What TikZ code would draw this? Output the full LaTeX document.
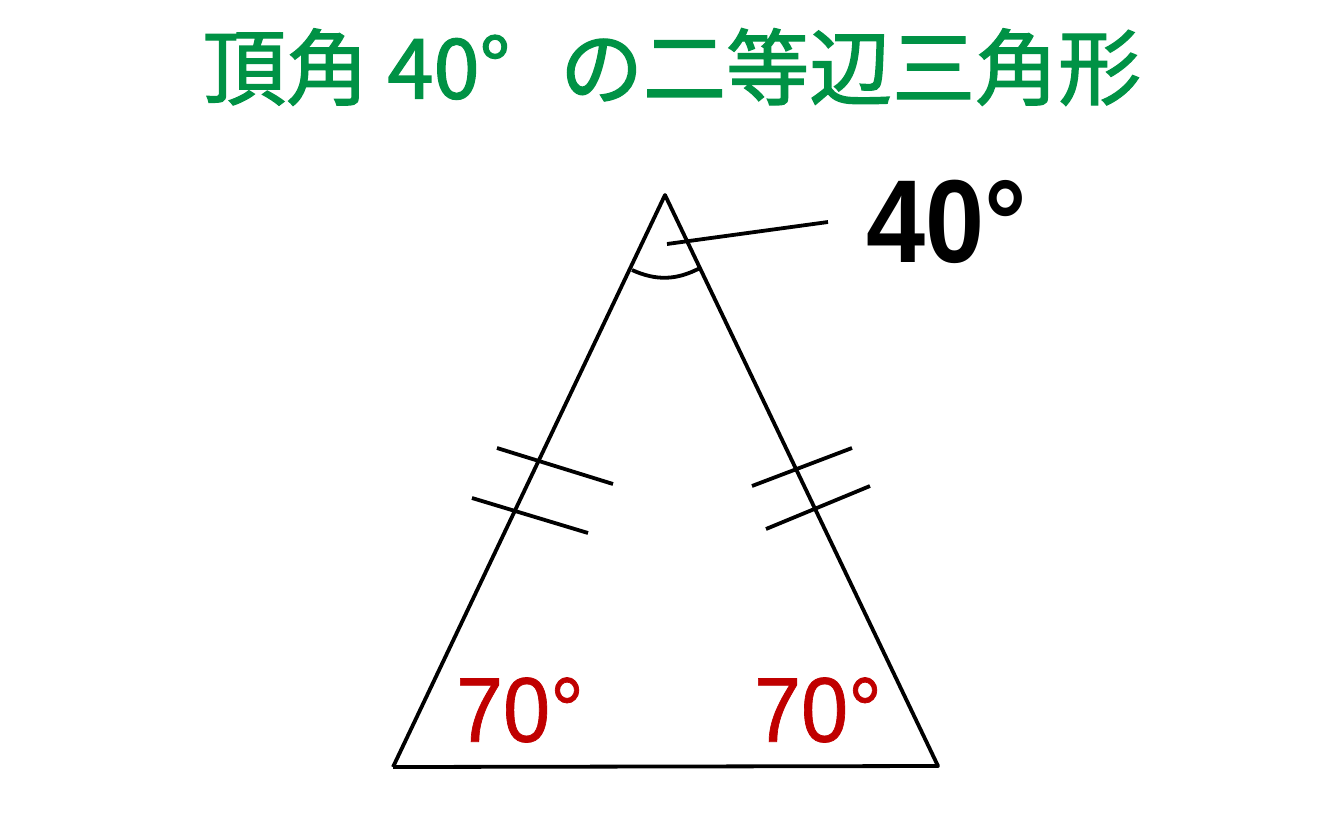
\documentclass[tikz,border=0pt]{standalone}
\usepackage{fontspec}
\setmainfont{Liberation Sans}
\newfontfamily\jp{Noto Sans CJK JP}[FakeBold=1.6]
\newfontfamily\redfont{Liberation Sans}[FakeBold=0.8]
\definecolor{titlegreen}{RGB}{0,146,69}
\definecolor{anglered}{RGB}{192,0,0}
\tikzset{
  edge/.style={line width=3.8pt, line join=round},
  tick/.style={line width=3.8pt},
  titletext/.style={text=titlegreen, font=\jp\fontsize{83}{92}\selectfont, inner sep=0pt},
  bigangle/.style={text=black, font=\bfseries\fontsize{118}{130}\selectfont, inner sep=0pt, xscale=0.9},
  baseangle/.style={text=anglered, font=\redfont\fontsize{92}{100}\selectfont, inner sep=0pt, xscale=0.92}
}
\begin{document}
\begin{tikzpicture}[x=1pt,y=-1pt]
\useasboundingbox (0,0) rectangle (1333,833);
% vertices
\coordinate (A) at (665,195);
\coordinate (B) at (393,767);
\coordinate (C) at (938,766);
\draw[edge] (B) -- (A) -- (C) -- (B);
% angle arc
\coordinate (aL) at (632,270);
\coordinate (aR) at (700,268);
\draw[tick] (aL) to[bend right=26] (aR);
% leader
\coordinate (l1) at (667,244);
\coordinate (l2) at (828,222);
\draw[tick] (l1) -- (l2);
% tick marks
\coordinate (t1a) at (497,448); \coordinate (t1b) at (613,484);
\coordinate (t2a) at (472,498); \coordinate (t2b) at (588,533);
\coordinate (t3a) at (752,486); \coordinate (t3b) at (852,448);
\coordinate (t4a) at (766,529); \coordinate (t4b) at (870,486);
\draw[tick] (t1a) -- (t1b);
\draw[tick] (t2a) -- (t2b);
\draw[tick] (t3a) -- (t3b);
\draw[tick] (t4a) -- (t4b);
% labels
\node[titletext] (title) at (672,67) {頂角 40°\hspace{0.6em}の二等辺三角形};
\node[bigangle] (a40) at (947,222) {40°};
\node[baseangle] (b70l) at (520,710) {70°};
\node[baseangle] (b70r) at (818,710) {70°};
\end{tikzpicture}
\end{document}
